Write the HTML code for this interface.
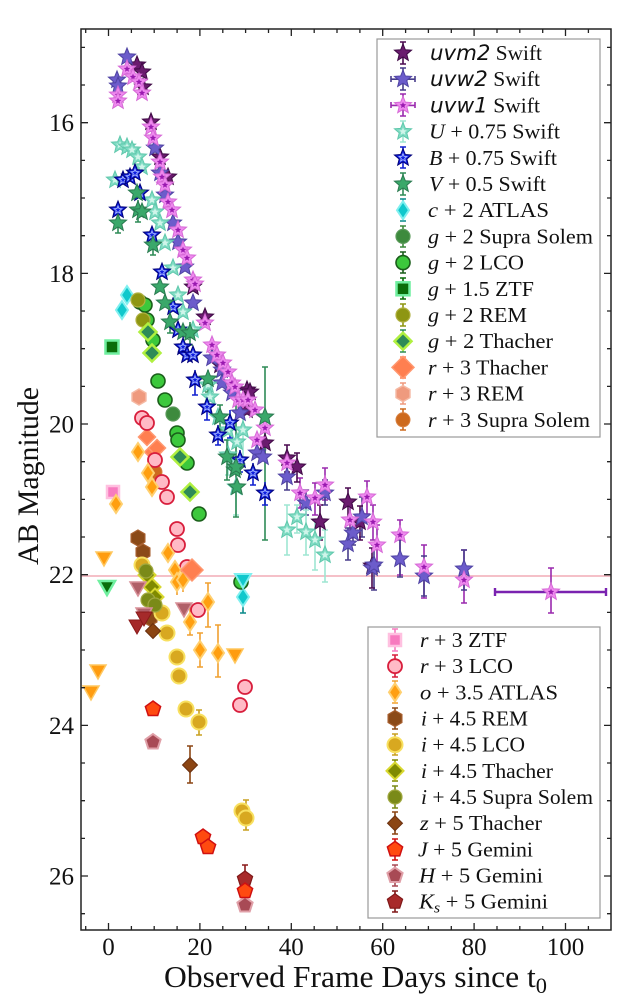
<!DOCTYPE html>
<html><head><meta charset="utf-8"><style>
html,body{margin:0;padding:0;background:#fff;}
svg{display:block;}
text{font-family:"Liberation Serif","DejaVu Serif",serif;fill:#111;}
.it{font-style:italic;}
.dv{font-family:"DejaVu Sans",sans-serif;font-style:italic;}
</style></head><body>
<svg width="636" height="1000" viewBox="0 0 636 1000" xmlns="http://www.w3.org/2000/svg">
<defs>
<path id="star" d="M0,-9 L2.35,-3.24 L8.56,-2.78 L3.8,1.24 L5.29,7.28 L0,4 L-5.29,7.28 L-3.8,1.24 L-8.56,-2.78 L-2.35,-3.24Z"/>
<path id="tdia" d="M0,-9 L6,0 L0,9 L-6,0Z"/>
<path id="sdia" d="M0,-8.5 L8.5,0 L0,8.5 L-8.5,0Z"/>
<path id="bdia" d="M0,-11 L11,0 L0,11 L-11,0Z"/>
<path id="hex" d="M0,-8 L6.93,-4 L6.93,4 L0,8 L-6.93,4 L-6.93,-4Z"/>
<path id="pent" d="M0,-8 L7.61,-2.47 L4.7,6.47 L-4.7,6.47 L-7.61,-2.47Z"/>
<path id="tri" d="M-8,-6 L8,-6 L0,8Z"/>
<g id="m_uvm2"><use href="#star" fill="#6a1b6e" stroke="#3f0a45" stroke-width="1"/></g>
<g id="m_uvw2"><use href="#star" fill="#6c5ccb" stroke="#4f43a3" stroke-width="1"/></g>
<g id="m_uvw1"><use href="#star" fill="#ef8aef" stroke="#d66ad6" stroke-width="1"/><use href="#star" transform="scale(0.38)" fill="#9a1ab0"/></g>
<g id="m_U"><use href="#star" fill="#80dcc4" stroke="#60c8ac" stroke-width="1"/><use href="#star" transform="scale(0.45)" fill="#d0f5ea"/></g>
<g id="m_B"><use href="#star" fill="#1020e0" stroke="#00007a" stroke-width="1"/><use href="#star" transform="scale(0.45)" fill="none" stroke="#a8b8ff" stroke-width="2"/></g>
<g id="m_V"><use href="#star" fill="#3aa86a" stroke="#2a7a50" stroke-width="1"/></g>
<g id="m_c"><use href="#tdia" fill="#10c8cc" stroke="#80f0f0" stroke-width="2"/></g>
<g id="m_gSS"><circle r="7" fill="#3d8a3d" stroke="#5a9a5a" stroke-width="1.2"/></g>
<g id="m_gLCO"><circle r="7" fill="#3cc83c" stroke="#1a5e1a" stroke-width="1.6"/></g>
<g id="m_gZTF"><rect x="-6.5" y="-6.5" width="13" height="13" fill="#0a6e0a" stroke="#6fef9f" stroke-width="2.5"/></g>
<g id="m_gREM"><circle r="7" fill="#8e9612" stroke="#b0b040" stroke-width="1.2"/></g>
<g id="m_gTh"><use href="#sdia" fill="#2e8b57" stroke="#b0f040" stroke-width="2.5"/></g>
<g id="m_rTh"><use href="#sdia" fill="#ff7f50" stroke="#ff9870" stroke-width="1.5"/></g>
<g id="m_rThB"><use href="#bdia" fill="#ff7f50" stroke="#ff9870" stroke-width="1.5"/></g>
<g id="m_rREM"><use href="#hex" fill="#ef9a7e" stroke="#f5b8a2" stroke-width="1.5"/></g>
<g id="m_rSS"><circle r="7" fill="#cd6a1e" stroke="#d88040" stroke-width="1"/></g>
<g id="m_rZTF"><rect x="-6" y="-6" width="12" height="12" fill="#f77bbf" stroke="#ffc0e0" stroke-width="2.5"/></g>
<g id="m_rLCO"><circle r="7" fill="#ffbac6" stroke="#d81e3c" stroke-width="1.8"/></g>
<g id="m_o"><use href="#tdia" fill="#ff9f10" stroke="#ffd070" stroke-width="2"/></g>
<g id="m_iREM"><use href="#hex" fill="#8b4a18" stroke="#a86030" stroke-width="1.2"/></g>
<g id="m_iLCO"><circle r="7.5" fill="#d8a820" stroke="#f8e060" stroke-width="2"/></g>
<g id="m_iTh"><use href="#sdia" fill="#7f8a00" stroke="#d8d830" stroke-width="2"/></g>
<g id="m_iSS"><circle r="7" fill="#7a8a18" stroke="#a0a840" stroke-width="1.2"/></g>
<g id="m_z"><path d="M0,-7.5 L7.5,0 L0,7.5 L-7.5,0Z" fill="#8b4513" stroke="#6a3010" stroke-width="1"/></g>
<g id="m_J"><use href="#pent" fill="#ff4a10" stroke="#d01010" stroke-width="1.5"/></g>
<g id="m_H"><use href="#pent" fill="#a84a55" stroke="#e0a0a8" stroke-width="2"/></g>
<g id="m_Ks"><use href="#pent" fill="#a82a2a" stroke="#801818" stroke-width="1.2"/></g>
<g id="v_o"><use href="#tri" fill="#ff9c10" stroke="#ffc860" stroke-width="1.5"/></g>
<g id="v_g"><use href="#tri" fill="#0a6e0a" stroke="#70f0a0" stroke-width="2.5"/></g>
<g id="v_Ks"><use href="#tri" fill="#a52a2a" stroke="#8b1a1a" stroke-width="1"/></g>
<g id="v_H"><use href="#tri" fill="#b06068" stroke="#d89098" stroke-width="1.5"/></g>
<g id="v_c"><use href="#tri" fill="#10c8cc" stroke="#80f0f0" stroke-width="2"/></g>
</defs>

<rect width="636" height="1000" fill="#fff"/>

<line x1="81" y1="576" x2="611" y2="576" stroke="#f5c0c8" stroke-width="2"/>

<g fill="none" stroke-width="1.6">
<path stroke="#9a2aae" d="M300,478V508M297,478h6M297,508h6M315,483V515M312,483h6M312,515h6M325,468V500M322,468h6M322,500h6M350,505V538M347,505h6M347,538h6M367,481V514M364,481h6M364,514h6M373,505V540M370,505h6M370,540h6M377,525V565M374,525h6M374,565h6M400,520V575M397,520h6M397,575h6M424,545V598M421,545h6M421,598h6M464,550V603M461,550h6M461,603h6M551,568V613M548,568h6M548,613h6"/>
<path stroke="#7a22b0" stroke-width="2.4" d="M495,592H606M495,588v8M606,588v8"/>
<path stroke="#483d8b" d="M287,467V490M284,467h6M284,490h6M306,490V515M303,490h6M303,515h6M325,480V505M322,480h6M322,505h6M348,528V560M345,528h6M345,560h6M353,520V545M350,520h6M350,545h6M362,497V537M359,497h6M359,537h6M374,545V590M371,545h6M371,590h6M400,540V577M397,540h6M397,577h6M424,556V596M421,556h6M421,596h6M464,550V590M461,550h6M461,590h6"/>
<path stroke="#4b0a50" d="M265,430V456M262,430h6M262,456h6M287,445V472M284,445h6M284,472h6M297,453V482M294,453h6M294,482h6M320,505V540M317,505h6M317,540h6M348,488V518M345,488h6M345,518h6M360,506V540M357,506h6M357,540h6M372,548V588M369,548h6M369,588h6"/>
<path stroke="#9ee6d2" d="M287,505V555M284,505h6M284,555h6M297,505V533M294,505h6M294,533h6M306,510V555M303,510h6M303,555h6M315,520V570M312,520h6M312,570h6M325,530V582M322,530h6M322,582h6M228,440V475M225,440h6M225,475h6M236,460V515M233,460h6M233,515h6M243,410V460M240,410h6M240,460h6"/>
<path stroke="#2e8b57" d="M265,367V540M262,367h6M262,540h6M236,400V517M233,400h6M233,517h6M227,440V480M224,440h6M224,480h6M220,405V430M217,405h6M217,430h6M118,215V233M115,233h6M138,200V222M135,222h6M153,237V255M150,255h6M170,312V333M167,333h6M190,322V345M187,345h6M208,370V392M205,392h6"/>
<path stroke="#1020d0" d="M195,370V395M192,395h6M207,397V420M204,420h6M218,425V445M215,445h6M230,410V438M227,438h6M240,450V472M237,472h6M253,463V485M250,485h6M265,482V505M262,505h6"/>
<path stroke="#f0a030" d="M208,583V627M205,583h6M205,627h6M200,633V667M197,633h6M197,667h6M218,625V677M215,625h6M215,677h6M190,608V635M187,608h6M187,635h6M183,565V592M180,565h6M177,570V595"/>
<path stroke="#0a8a8a" d="M243,588V613M240,613h6"/>
<path stroke="#8b4513" d="M190,746V783M187,746h6M187,783h6"/>
<path stroke="#c8a020" d="M199,710V735M196,710h6M196,735h6M246,800V830M243,800h6M243,830h6"/>
<path stroke="#8b1a1a" d="M245,865V893M242,865h6"/>
</g>

<g>
<use href="#m_uvm2" x="137" y="65"/><use href="#m_uvm2" x="142" y="72"/><use href="#m_uvm2" x="143" y="87"/>
<use href="#m_uvm2" x="151" y="122"/><use href="#m_uvm2" x="160" y="157"/><use href="#m_uvm2" x="168" y="177"/>
<use href="#m_uvm2" x="193" y="287"/><use href="#m_uvm2" x="205" y="317"/><use href="#m_uvm2" x="220" y="365"/>
<use href="#m_uvm2" x="247" y="390"/><use href="#m_uvm2" x="250" y="392"/><use href="#m_uvm2" x="247" y="410"/>
<use href="#m_uvm2" x="265" y="443"/><use href="#m_uvm2" x="287" y="458"/><use href="#m_uvm2" x="297" y="467"/>
<use href="#m_uvm2" x="320" y="522"/><use href="#m_uvm2" x="348" y="502"/><use href="#m_uvm2" x="360" y="522"/><use href="#m_uvm2" x="372" y="566"/>
</g>
<g>
<use href="#m_uvw2" x="127" y="57"/><use href="#m_uvw2" x="117" y="80"/><use href="#m_uvw2" x="118" y="86"/>
<use href="#m_uvw2" x="155" y="148"/><use href="#m_uvw2" x="160" y="173"/><use href="#m_uvw2" x="165" y="195"/>
<use href="#m_uvw2" x="173" y="223"/><use href="#m_uvw2" x="178" y="242"/><use href="#m_uvw2" x="185" y="267"/>
<use href="#m_uvw2" x="193" y="303"/><use href="#m_uvw2" x="212" y="358"/><use href="#m_uvw2" x="222" y="370"/>
<use href="#m_uvw2" x="222" y="383"/><use href="#m_uvw2" x="232" y="393"/><use href="#m_uvw2" x="240" y="413"/>
<use href="#m_uvw2" x="257" y="453"/><use href="#m_uvw2" x="263" y="457"/><use href="#m_uvw2" x="287" y="477"/>
<use href="#m_uvw2" x="306" y="503"/><use href="#m_uvw2" x="325" y="493"/><use href="#m_uvw2" x="348" y="544"/>
<use href="#m_uvw2" x="353" y="533"/><use href="#m_uvw2" x="362" y="517"/><use href="#m_uvw2" x="372" y="568"/>
<use href="#m_uvw2" x="374" y="565"/><use href="#m_uvw2" x="400" y="559"/><use href="#m_uvw2" x="424" y="576"/><use href="#m_uvw2" x="464" y="569"/>
</g>
<g>
<use href="#m_uvw1" x="118" y="95"/><use href="#m_uvw1" x="118" y="101"/><use href="#m_uvw1" x="127" y="69"/>
<use href="#m_uvw1" x="133" y="77"/><use href="#m_uvw1" x="139" y="82"/><use href="#m_uvw1" x="142" y="93"/>
<use href="#m_uvw1" x="151" y="127"/><use href="#m_uvw1" x="153" y="138"/><use href="#m_uvw1" x="160" y="162"/>
<use href="#m_uvw1" x="162" y="177"/><use href="#m_uvw1" x="165" y="185"/><use href="#m_uvw1" x="168" y="202"/>
<use href="#m_uvw1" x="172" y="210"/><use href="#m_uvw1" x="178" y="230"/><use href="#m_uvw1" x="183" y="250"/>
<use href="#m_uvw1" x="187" y="258"/><use href="#m_uvw1" x="193" y="280"/><use href="#m_uvw1" x="195" y="284"/>
<use href="#m_uvw1" x="205" y="323"/><use href="#m_uvw1" x="212" y="345"/><use href="#m_uvw1" x="217" y="355"/>
<use href="#m_uvw1" x="223" y="363"/><use href="#m_uvw1" x="228" y="372"/><use href="#m_uvw1" x="232" y="383"/>
<use href="#m_uvw1" x="235" y="387"/><use href="#m_uvw1" x="238" y="400"/><use href="#m_uvw1" x="243" y="400"/>
<use href="#m_uvw1" x="248" y="400"/><use href="#m_uvw1" x="255" y="410"/><use href="#m_uvw1" x="257" y="440"/>
<use href="#m_uvw1" x="265" y="428"/><use href="#m_uvw1" x="287" y="463"/><use href="#m_uvw1" x="300" y="493"/>
<use href="#m_uvw1" x="315" y="498"/><use href="#m_uvw1" x="325" y="485"/><use href="#m_uvw1" x="350" y="520"/>
<use href="#m_uvw1" x="367" y="497"/><use href="#m_uvw1" x="373" y="522"/><use href="#m_uvw1" x="377" y="545"/>
<use href="#m_uvw1" x="400" y="535"/><use href="#m_uvw1" x="424" y="567"/><use href="#m_uvw1" x="464" y="580"/><use href="#m_uvw1" x="551" y="592"/>
</g>
<g>
<use href="#m_U" x="120" y="145"/><use href="#m_U" x="127" y="147"/><use href="#m_U" x="132" y="150"/>
<use href="#m_U" x="138" y="157"/><use href="#m_U" x="142" y="167"/><use href="#m_U" x="115" y="180"/>
<use href="#m_U" x="152" y="200"/><use href="#m_U" x="155" y="212"/><use href="#m_U" x="160" y="223"/>
<use href="#m_U" x="165" y="243"/><use href="#m_U" x="173" y="268"/><use href="#m_U" x="178" y="295"/>
<use href="#m_U" x="183" y="312"/><use href="#m_U" x="193" y="330"/><use href="#m_U" x="208" y="385"/>
<use href="#m_U" x="210" y="397"/><use href="#m_U" x="218" y="417"/><use href="#m_U" x="228" y="430"/>
<use href="#m_U" x="228" y="455"/><use href="#m_U" x="237" y="442"/><use href="#m_U" x="236" y="487"/>
<use href="#m_U" x="243" y="430"/><use href="#m_U" x="287" y="530"/><use href="#m_U" x="297" y="517"/>
<use href="#m_U" x="306" y="532"/><use href="#m_U" x="315" y="540"/><use href="#m_U" x="325" y="555"/>
</g>
<g>
<use href="#m_B" x="118" y="210"/><use href="#m_B" x="123" y="180"/><use href="#m_B" x="130" y="177"/>
<use href="#m_B" x="135" y="173"/><use href="#m_B" x="140" y="193"/><use href="#m_B" x="152" y="235"/>
<use href="#m_B" x="162" y="272"/><use href="#m_B" x="173" y="307"/><use href="#m_B" x="178" y="330"/>
<use href="#m_B" x="183" y="347"/><use href="#m_B" x="187" y="355"/><use href="#m_B" x="193" y="355"/>
<use href="#m_B" x="195" y="380"/><use href="#m_B" x="207" y="407"/><use href="#m_B" x="218" y="435"/>
<use href="#m_B" x="230" y="423"/><use href="#m_B" x="240" y="460"/><use href="#m_B" x="253" y="473"/><use href="#m_B" x="265" y="493"/>
</g>
<g>
<use href="#m_V" x="118" y="223"/><use href="#m_V" x="137" y="193"/><use href="#m_V" x="138" y="210"/>
<use href="#m_V" x="142" y="212"/><use href="#m_V" x="153" y="245"/><use href="#m_V" x="160" y="287"/>
<use href="#m_V" x="165" y="303"/><use href="#m_V" x="170" y="322"/><use href="#m_V" x="183" y="332"/>
<use href="#m_V" x="190" y="333"/><use href="#m_V" x="208" y="379"/><use href="#m_V" x="220" y="417"/>
<use href="#m_V" x="227" y="457"/><use href="#m_V" x="235" y="470"/><use href="#m_V" x="236" y="467"/>
<use href="#m_V" x="237" y="487"/><use href="#m_V" x="265" y="417"/>
</g>
<use href="#m_c" x="127" y="295"/><use href="#m_c" x="122" y="310"/><use href="#m_c" x="243" y="597"/>
<use href="#m_gSS" x="173" y="414"/>
<g>
<use href="#m_gLCO" x="140" y="302"/><use href="#m_gLCO" x="145" y="305"/><use href="#m_gLCO" x="147" y="320"/>
<use href="#m_gLCO" x="153" y="340"/><use href="#m_gLCO" x="158" y="381"/><use href="#m_gLCO" x="165" y="400"/>
<use href="#m_gLCO" x="177" y="433"/><use href="#m_gLCO" x="178" y="440"/><use href="#m_gLCO" x="187" y="463"/>
<use href="#m_gLCO" x="199" y="514"/><use href="#m_gLCO" x="241" y="582"/>
</g>
<use href="#m_gZTF" x="112" y="347"/>
<use href="#v_g" x="107" y="587"/>
<use href="#v_c" x="243" y="580"/>
<use href="#m_gREM" x="138" y="300"/><use href="#m_gREM" x="143" y="320"/>
<use href="#m_gTh" x="148" y="332"/><use href="#m_gTh" x="152" y="353"/><use href="#m_gTh" x="180" y="457"/><use href="#m_gTh" x="190" y="492"/>
<use href="#m_rTh" x="147" y="437"/><use href="#m_rTh" x="153" y="452"/><use href="#m_rTh" x="157" y="448"/>
<use href="#m_rREM" x="139" y="397"/>
<use href="#m_rSS" x="155" y="472"/>
<use href="#m_rZTF" x="113" y="492"/>
<g>
<use href="#m_rLCO" x="142" y="418"/><use href="#m_rLCO" x="147" y="423"/><use href="#m_rLCO" x="155" y="460"/>
<use href="#m_rLCO" x="162" y="482"/><use href="#m_rLCO" x="167" y="497"/><use href="#m_rLCO" x="177" y="529"/>
<use href="#m_rLCO" x="178" y="545"/><use href="#m_rLCO" x="187" y="567"/><use href="#m_rLCO" x="198" y="610"/>
<use href="#m_rLCO" x="245" y="687"/><use href="#m_rLCO" x="240" y="705"/>
</g>
<g>
<use href="#m_o" x="138" y="452"/><use href="#m_o" x="148" y="473"/><use href="#m_o" x="152" y="487"/>
<use href="#m_o" x="116" y="504"/><use href="#m_o" x="168" y="553"/><use href="#m_o" x="175" y="570"/>
<use href="#m_o" x="177" y="582"/><use href="#m_o" x="183" y="580"/><use href="#m_o" x="190" y="622"/>
<use href="#m_o" x="208" y="602"/><use href="#m_o" x="200" y="650"/><use href="#m_o" x="218" y="653"/>
<use href="#v_o" x="104" y="558"/><use href="#v_o" x="98" y="671"/><use href="#v_o" x="91" y="692"/><use href="#v_o" x="235" y="655"/>
</g>
<use href="#m_rThB" x="192" y="570"/>
<use href="#m_iREM" x="138" y="538"/><use href="#m_iREM" x="143" y="552"/><use href="#m_iREM" x="150" y="618"/>
<g>
<use href="#m_iLCO" x="142" y="565"/><use href="#m_iLCO" x="162" y="613"/><use href="#m_iLCO" x="167" y="633"/>
<use href="#m_iLCO" x="177" y="657"/><use href="#m_iLCO" x="179" y="676"/><use href="#m_iLCO" x="186" y="709"/>
<use href="#m_iLCO" x="199" y="722"/><use href="#m_iLCO" x="242" y="811"/><use href="#m_iLCO" x="246" y="818"/>
</g>
<use href="#m_iTh" x="147" y="575"/><use href="#m_iTh" x="152" y="587"/><use href="#m_iTh" x="155" y="597"/>
<use href="#m_iSS" x="146" y="571"/><use href="#m_iSS" x="148" y="600"/><use href="#m_iSS" x="155" y="605"/>
<use href="#v_H" x="138" y="588"/><use href="#v_H" x="144" y="614"/><use href="#v_H" x="184" y="609"/>
<use href="#v_Ks" x="137" y="626"/><use href="#v_Ks" x="144" y="618"/>
<use href="#m_z" x="153" y="631"/><use href="#m_z" x="190" y="765"/>
<use href="#m_J" x="153" y="709"/><use href="#m_J" x="203" y="837"/><use href="#m_J" x="208" y="847"/>
<use href="#m_H" x="153" y="742"/><use href="#m_H" x="245" y="905"/>
<use href="#m_Ks" x="245" y="879"/>
<use href="#m_J" x="245" y="891"/>

<rect x="81" y="29" width="530" height="901" fill="none" stroke="#222" stroke-width="1.5"/>
<g stroke="#222" stroke-width="1.3">
<path d="M108.5,930v-7M199.9,930v-7M291.3,930v-7M382.7,930v-7M474.1,930v-7M565.5,930v-7M108.5,29v7M199.9,29v7M291.3,29v7M382.7,29v7M474.1,29v7M565.5,29v7"/>
<path d="M85.7,930v-4M131.4,930v-4M154.2,930v-4M177.1,930v-4M222.8,930v-4M245.6,930v-4M268.5,930v-4M314.2,930v-4M337,930v-4M359.9,930v-4M405.6,930v-4M428.4,930v-4M451.3,930v-4M497,930v-4M519.8,930v-4M542.7,930v-4M588.4,930v-4
M85.7,29v4M131.4,29v4M154.2,29v4M177.1,29v4M222.8,29v4M245.6,29v4M268.5,29v4M314.2,29v4M337,29v4M359.9,29v4M405.6,29v4M428.4,29v4M451.3,29v4M497,29v4M519.8,29v4M542.7,29v4M588.4,29v4"/>
<path d="M81,122.7h7M81,273.4h7M81,424h7M81,574.7h7M81,725.4h7M81,876h7M611,122.7h-7M611,273.4h-7M611,424h-7M611,574.7h-7M611,725.4h-7M611,876h-7"/>
<path d="M81,47.4h4M81,85h4M81,160.4h4M81,198h4M81,235.7h4M81,311h4M81,348.7h4M81,386.4h4M81,461.7h4M81,499.4h4M81,537h4M81,612.4h4M81,650h4M81,687.7h4M81,763h4M81,800.7h4M81,838.4h4M81,913.7h4
M611,47.4h-4M611,85h-4M611,160.4h-4M611,198h-4M611,235.7h-4M611,311h-4M611,348.7h-4M611,386.4h-4M611,461.7h-4M611,499.4h-4M611,537h-4M611,612.4h-4M611,650h-4M611,687.7h-4M611,763h-4M611,800.7h-4M611,838.4h-4M611,913.7h-4"/>
</g>

<g font-size="25" text-anchor="end">
<text x="74" y="131">16</text><text x="74" y="282">18</text><text x="74" y="432.5">20</text>
<text x="74" y="583">22</text><text x="74" y="734">24</text><text x="74" y="884.5">26</text>
</g>
<g font-size="25" text-anchor="middle">
<text x="108.5" y="955">0</text><text x="199.9" y="955">20</text><text x="291.3" y="955">40</text>
<text x="382.7" y="955">60</text><text x="474.1" y="955">80</text><text x="565.5" y="955">100</text>
</g>
<text x="164" y="987" font-size="31" textLength="383" lengthAdjust="spacingAndGlyphs">Observed Frame Days since t<tspan font-size="22" dy="6">0</tspan></text>
<text transform="translate(38,565) rotate(-90)" font-size="30" textLength="178" lengthAdjust="spacingAndGlyphs">AB Magnitude</text>

<rect x="377" y="39" width="223" height="398" fill="#fff" fill-opacity="0.85" stroke="#999" stroke-width="1.2"/>
<g stroke-width="1.6" fill="none">
<path stroke="#4b0a50" d="M403,42V64M400,42h6M400,64h6"/>
<path stroke="#483d8b" d="M403,68V90M400,68h6M400,90h6M391,79.2H415M391,76v6M415,76v6"/>
<path stroke="#9a2aae" d="M403,94V116M400,94h6M400,116h6M391,105.4H415M391,102v6M415,102v6"/>
<path stroke="#9ee6d2" d="M403,121V142M400,121h6M400,142h6"/>
<path stroke="#1020d0" d="M403,147V168M400,147h6M400,168h6"/>
<path stroke="#2e8b57" d="M403,173V195M400,173h6M400,195h6"/>
<path stroke="#0a8a8a" d="M403,199V221M400,199h6M400,221h6"/>
<path stroke="#3d8a3d" d="M403,226V247M400,226h6M400,247h6"/>
<path stroke="#1a5e1a" d="M403,252V273M400,252h6M400,273h6"/>
<path stroke="#0a6e0a" d="M403,278V299M400,278h6M400,299h6"/>
<path stroke="#8e9612" d="M403,304V326M400,304h6M400,326h6"/>
<path stroke="#2e8b57" d="M403,330V352M400,330h6M400,352h6"/>
<path stroke="#ff7f50" d="M403,357V378M400,357h6M400,378h6"/>
<path stroke="#ef9a7e" d="M403,383V404M400,383h6M400,404h6"/>
<path stroke="#cd6a1e" d="M403,409V430M400,409h6M400,430h6"/>
</g>
<use href="#m_uvm2" x="403" y="53"/><use href="#m_uvw2" x="403" y="79.2"/><use href="#m_uvw1" x="403" y="105.4"/>
<use href="#m_U" x="403" y="131.6"/><use href="#m_B" x="403" y="157.8"/><use href="#m_V" x="403" y="184"/>
<use href="#m_c" x="403" y="210.2"/><use href="#m_gSS" x="403" y="236.4"/><use href="#m_gLCO" x="403" y="262.6"/>
<use href="#m_gZTF" x="403" y="288.8"/><use href="#m_gREM" x="403" y="315"/><use href="#m_gTh" x="403" y="341.2"/>
<use href="#m_rThB" x="403" y="367.4"/><use href="#m_rREM" x="403" y="393.6"/><use href="#m_rSS" x="403" y="419.8"/>
<g font-size="21">
<text x="430" y="60" textLength="112" lengthAdjust="spacingAndGlyphs"><tspan class="dv">uvm2</tspan> Swift</text>
<text x="430" y="86.2" textLength="110" lengthAdjust="spacingAndGlyphs"><tspan class="dv">uvw2</tspan> Swift</text>
<text x="430" y="112.4" textLength="110" lengthAdjust="spacingAndGlyphs"><tspan class="dv">uvw1</tspan> Swift</text>
<text x="429" y="138.6" textLength="131" lengthAdjust="spacingAndGlyphs"><tspan class="it">U</tspan> + 0.75 Swift</text>
<text x="429" y="164.8" textLength="128" lengthAdjust="spacingAndGlyphs"><tspan class="it">B</tspan> + 0.75 Swift</text>
<text x="429" y="191" textLength="117" lengthAdjust="spacingAndGlyphs"><tspan class="it">V</tspan> + 0.5 Swift</text>
<text x="428" y="217.2" textLength="121" lengthAdjust="spacingAndGlyphs"><tspan class="it">c</tspan> + 2 ATLAS</text>
<text x="428" y="243.4" textLength="165" lengthAdjust="spacingAndGlyphs"><tspan class="it">g</tspan> + 2 Supra Solem</text>
<text x="428" y="269.6" textLength="96" lengthAdjust="spacingAndGlyphs"><tspan class="it">g</tspan> + 2 LCO</text>
<text x="428" y="295.8" textLength="106" lengthAdjust="spacingAndGlyphs"><tspan class="it">g</tspan> + 1.5 ZTF</text>
<text x="428" y="322" textLength="99" lengthAdjust="spacingAndGlyphs"><tspan class="it">g</tspan> + 2 REM</text>
<text x="428" y="348.2" textLength="125" lengthAdjust="spacingAndGlyphs"><tspan class="it">g</tspan> + 2 Thacher</text>
<text x="428" y="374.4" textLength="120" lengthAdjust="spacingAndGlyphs"><tspan class="it">r</tspan> + 3 Thacher</text>
<text x="428" y="400.6" textLength="96" lengthAdjust="spacingAndGlyphs"><tspan class="it">r</tspan> + 3 REM</text>
<text x="428" y="426.8" textLength="162" lengthAdjust="spacingAndGlyphs"><tspan class="it">r</tspan> + 3 Supra Solem</text>
</g>

<rect x="368" y="627" width="232" height="291" fill="#fff" fill-opacity="0.85" stroke="#999" stroke-width="1.2"/>
<g stroke-width="1.6" fill="none">
<path stroke="#f77bbf" d="M395,629V651M392,629h6M392,651h6"/>
<path stroke="#d81e3c" d="M395,655V677M392,655h6M392,677h6"/>
<path stroke="#f0a030" d="M395,681V703M392,681h6M392,703h6"/>
<path stroke="#8b4a18" d="M395,708V729M392,708h6M392,729h6"/>
<path stroke="#c8a020" d="M395,734V755M392,734h6M392,755h6"/>
<path stroke="#7f8a00" d="M395,760V781M392,760h6M392,781h6"/>
<path stroke="#7a8a18" d="M395,786V808M392,786h6M392,808h6"/>
<path stroke="#8b4513" d="M395,812V834M392,812h6M392,834h6"/>
<path stroke="#d01010" d="M395,839V860M392,839h6M392,860h6"/>
<path stroke="#a84a55" d="M395,865V886M392,865h6M392,886h6"/>
<path stroke="#801818" d="M395,891V912M392,891h6M392,912h6"/>
</g>
<use href="#m_rZTF" x="395" y="640"/><use href="#m_rLCO" x="395" y="666.2"/><use href="#m_o" x="395" y="692.3"/>
<use href="#m_iREM" x="395" y="718.5"/><use href="#m_iLCO" x="395" y="744.7"/><use href="#m_iTh" x="395" y="770.9"/>
<use href="#m_iSS" x="395" y="797"/><use href="#m_z" x="395" y="823.2"/><use href="#m_J" x="395" y="849.4"/>
<use href="#m_H" x="395" y="875.5"/><use href="#m_Ks" x="395" y="901.7"/>
<g font-size="21">
<text x="420" y="647" textLength="87" lengthAdjust="spacingAndGlyphs"><tspan class="it">r</tspan> + 3 ZTF</text>
<text x="420" y="673.2" textLength="93" lengthAdjust="spacingAndGlyphs"><tspan class="it">r</tspan> + 3 LCO</text>
<text x="420" y="699.3" textLength="138" lengthAdjust="spacingAndGlyphs"><tspan class="it">o</tspan> + 3.5 ATLAS</text>
<text x="421" y="725.5" textLength="107" lengthAdjust="spacingAndGlyphs"><tspan class="it">i</tspan> + 4.5 REM</text>
<text x="421" y="751.7" textLength="104" lengthAdjust="spacingAndGlyphs"><tspan class="it">i</tspan> + 4.5 LCO</text>
<text x="421" y="777.9" textLength="132" lengthAdjust="spacingAndGlyphs"><tspan class="it">i</tspan> + 4.5 Thacher</text>
<text x="421" y="804" textLength="172" lengthAdjust="spacingAndGlyphs"><tspan class="it">i</tspan> + 4.5 Supra Solem</text>
<text x="420" y="830.2" textLength="122" lengthAdjust="spacingAndGlyphs"><tspan class="it">z</tspan> + 5 Thacher</text>
<text x="418" y="856.4" textLength="115" lengthAdjust="spacingAndGlyphs"><tspan class="it">J</tspan> + 5 Gemini</text>
<text x="419" y="882.5" textLength="124" lengthAdjust="spacingAndGlyphs"><tspan class="it">H</tspan> + 5 Gemini</text>
<text x="419" y="908.7" textLength="129" lengthAdjust="spacingAndGlyphs"><tspan class="it">K</tspan><tspan class="it" font-size="15" dy="4">s</tspan><tspan dy="-4"> + 5 Gemini</tspan></text>
</g>
</svg>
</body></html>
